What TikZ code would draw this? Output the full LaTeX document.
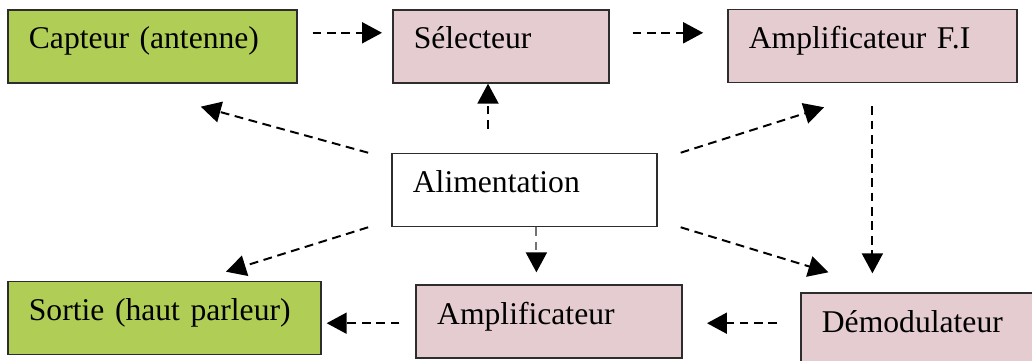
\documentclass[tikz,border=0pt]{standalone}
\usepackage{fontspec}
\setmainfont{Liberation Serif}
\usepackage{tikz}
\usetikzlibrary{arrows.meta,positioning,calc}
\definecolor{vertbloc}{RGB}{176,206,86}
\definecolor{rosebloc}{RGB}{229,204,208}
\definecolor{bord}{RGB}{45,45,45}

\begin{document}
\begin{tikzpicture}[
  bloc/.style={draw=bord, line width=1.1pt, align=left,
               inner xsep=5.25mm, inner ysep=0pt,
               text height=9.75mm, text depth=8.5mm,
               font=\fontsize{22.5}{27}\selectfont},
  capteurbloc/.style={bloc, fill=vertbloc},
  etage/.style={bloc, fill=rosebloc},
  source/.style={bloc, fill=white},
  fleche/.style={-{Triangle[length=5mm,width=5.25mm,color=black]}, line width=1.4pt,
                 dash pattern=on 2.2mm off 1.4mm},
  fleche gris/.style={fleche, draw=black!55}
]
\useasboundingbox (0,0) rectangle (25.8,9);

\node[capteurbloc, text width=6.175cm] (capteur) at (3.81,7.84) {Capteur (antenne)};
\node[etage, text width=4.35cm] (selecteur) at (12.52,7.84) {Sélecteur};
\node[etage, text width=6.175cm] (ampfi) at (21.81,7.85) {Amplificateur F.I};
\node[source, text width=5.575cm] (alim) at (13.11,4.25) {Alimentation};
\node[capteurbloc, text width=6.775cm] (sortie) at (4.11,1.05) {Sortie (haut parleur)};
\node[etage, text width=5.6cm] (amplif) at (13.73,0.96) {Amplificateur};
\node[etage, text width=4.925cm] (demod) at (23.01,0.76) {Démodulateur};

% chaine du signal
\draw[fleche, shorten <=3.75mm, shorten >=2.5mm]
  ([yshift=3.4mm]capteur.east) -- ([yshift=3.4mm]capteur.east -| selecteur.west);
\draw[fleche, shorten <=5.75mm, shorten >=6mm]
  ([yshift=3.4mm]selecteur.east) -- ([yshift=3.4mm]selecteur.east -| ampfi.west);
\draw[fleche, shorten <=5.75mm, shorten >=4.75mm] (ampfi.south) -- (ampfi.south |- demod.north);
\draw[fleche, shorten <=5.75mm, shorten >=6mm]
  ([yshift=1.6mm]demod.west) -- ([yshift=1.6mm]demod.west -| amplif.east);
\draw[fleche, shorten <=4mm, shorten >=1.25mm]
  ([yshift=-0.4mm]amplif.west) -- ([yshift=-0.4mm]amplif.west -| sortie.east);

% alimentation des blocs
\draw[fleche, shorten <=6mm]
  ([xshift=-9.1mm]alim.north) -- ([xshift=-9.1mm]alim.north |- selecteur.south);
\draw[fleche] ([xshift=-5.75mm]alim.north west) -- ([xshift=1.21cm,yshift=-5.75mm]capteur.south);
\draw[fleche] ([xshift=-5.75mm]alim.south west) -- ([xshift=1.54cm,yshift=2.25mm]sortie.north);
\draw[fleche] ([xshift=5.75mm]alim.north east) -- ([xshift=-1.21cm,yshift=-6mm]ampfi.south);
\draw[fleche] ([xshift=5.75mm]alim.south east) -- ([xshift=-2.3cm,yshift=5mm]demod.north);
\draw[fleche gris, shorten >=3mm]
  ([xshift=3mm]alim.south) -- ([xshift=3mm]alim.south |- amplif.north);
\end{tikzpicture}
\end{document}
